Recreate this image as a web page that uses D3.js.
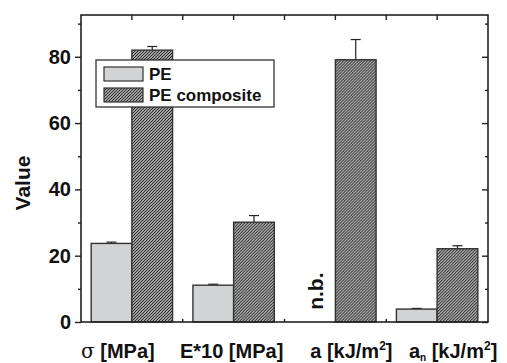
<!DOCTYPE html>
<html>
<head>
<meta charset="utf-8">
<script src="https://cdn.jsdelivr.net/npm/d3@7"></script>
<style>
    body { margin: 0; background: #fff; }
    svg text { font-family: "Liberation Sans", Arial, sans-serif; font-weight: bold; fill: #111; }
</style>
</head>
<body>
<svg id="chart" width="507" height="363"></svg>
<script>
// data
var categories = ["sigma", "E10", "a", "an"];
var seriesNames = ["PE", "PE composite"];
var peValues = [23.7, 11.1, null, 3.9];
var peErrors = [0.4, 0.3, null, 0.2];
var compValues = [82.0, 30.1, 79.1, 22.1];
var compErrors = [1.1, 2.0, 6.1, 0.9];
var yMajorTicks = [0, 20, 40, 60, 80];
var yMinorTicks = [10, 30, 50, 70, 90];

var dims = {
    margins: { top: 15, right: 19, bottom: 41, left: 81 },
    width: 507,
    height: 363,
    labelShift: [-14, -2, 16, 16] // the x labels are not centred under their groups
};
var plot = {
    width: dims.width - dims.margins.left - dims.margins.right,
    height: dims.height - dims.margins.top - dims.margins.bottom
};

var svg = d3.select("#chart");

// hatch for the composite bars
var defs = svg.append("defs");
var hatch = defs.append("pattern")
    .attr("id", "hatch")
    .attr("patternUnits", "userSpaceOnUse")
    .attr("width", 3)
    .attr("height", 3);
hatch.append("rect").attr("width", 3).attr("height", 3).attr("fill", "#fff");
hatch.append("path")
    .attr("d", "M-0.75,0.75 L0.75,-0.75 M0,3 L3,0 M2.25,3.75 L3.75,2.25")
    .attr("stroke", "#2a2a2a")
    .attr("stroke-width", 1.25);

var g = svg.append("g")
    .attr("transform", `translate(${dims.margins.left}, ${dims.margins.top})`);

var yScale = d3.scaleLinear()
    .domain([0, 92.6])
    .range([plot.height, 0]);
var x0 = d3.scaleBand()
    .domain(categories)
    .range([0, plot.width])
    .padding(0);
var x1 = d3.scaleBand()
    .domain(seriesNames)
    .range([0, x0.bandwidth()])
    .paddingInner(0)
    .paddingOuter(0.25);

var rows = categories.map((c, i) => ({
    cat: c,
    bars: [
        { s: "PE", v: peValues[i], e: peErrors[i] },
        { s: "PE composite", v: compValues[i], e: compErrors[i] }
    ].filter(b => b.v != null)
}));

var groups = g.selectAll("g.group")
    .data(rows)
    .enter()
    .append("g")
    .attr("class", "group")
    .attr("transform", d => `translate(${x0(d.cat)}, 0)`);

// error bars first so the bar outline sits over the stem bottom
groups.selectAll("g.err")
    .data(d => d.bars)
    .enter()
    .append("g")
    .attr("class", "err")
    .each(function(b) {
        var cx = x1(b.s) + x1.bandwidth() / 2;
        var el = d3.select(this);
        el.append("line")
            .attr("x1", cx).attr("x2", cx)
            .attr("y1", yScale(b.v)).attr("y2", yScale(b.v + b.e))
            .attr("stroke", "#222").attr("stroke-width", 1.2);
        el.append("line")
            .attr("x1", cx - 5).attr("x2", cx + 5)
            .attr("y1", yScale(b.v + b.e)).attr("y2", yScale(b.v + b.e))
            .attr("stroke", "#222").attr("stroke-width", 1.2);
    });

groups.selectAll("rect")
    .data(d => d.bars)
    .enter()
    .append("rect")
    .attr("x", b => x1(b.s))
    .attr("width", x1.bandwidth())
    .attr("y", b => yScale(b.v))
    .attr("height", b => plot.height - yScale(b.v))
    .attr("fill", b => b.s == "PE" ? "#d2d3d5" : "url(#hatch)")
    .attr("stroke", "#333")
    .attr("stroke-width", 1.4);

// n.b. for missing PE value
rows.forEach(d => {
    if (!d.bars.some(b => b.s == "PE")) {
        var cx = x0(d.cat) + x1("PE") + x1.bandwidth() / 2;
        g.append("text")
            .attr("transform", `translate(${cx + 8}, ${yScale(9.3)}) rotate(-90)`)
            .attr("text-anchor", "middle")
            .attr("font-size", 21)
            .text("n.b.");
    }
});

// axes: left with labels, right/top/bottom inward ticks
var yLeft = g.append("g")
    .call(d3.axisLeft(yScale).tickValues(yMajorTicks).tickSize(6).tickPadding(4));
yLeft.selectAll("text").attr("font-size", 20).style("font-family", "'Liberation Sans', Arial, sans-serif").style("font-weight", "bold").attr("fill", "#111");
g.append("g")
    .call(d3.axisLeft(yScale).tickValues(yMinorTicks.filter(v => v < 92)).tickSize(3).tickFormat(""));
g.append("g")
    .attr("transform", `translate(${plot.width}, 0)`)
    .call(d3.axisLeft(yScale).tickValues(yMajorTicks).tickSize(6).tickFormat(""));
g.append("g")
    .attr("transform", `translate(${plot.width}, 0)`)
    .call(d3.axisLeft(yScale).tickValues(yMinorTicks.filter(v => v < 92)).tickSize(3).tickFormat(""));
g.selectAll(".domain").remove();
g.selectAll(".tick line").attr("stroke", "#222").attr("stroke-width", 1.4);

var centers = categories.map(c => x0(c) + x0.bandwidth() / 2);
var bounds = categories.slice(1).map(c => x0(c));
g.selectAll("line.topTick")
    .data(centers.concat(bounds))
    .enter()
    .append("line")
    .attr("x1", d => d).attr("x2", d => d)
    .attr("y1", 0).attr("y2", 5)
    .attr("stroke", "#222").attr("stroke-width", 1.4);
g.selectAll("line.botTick")
    .data(bounds)
    .enter()
    .append("line")
    .attr("x1", d => d).attr("x2", d => d)
    .attr("y1", plot.height).attr("y2", plot.height - 3)
    .attr("stroke", "#222").attr("stroke-width", 1.4);

// frame
g.append("rect")
    .attr("width", plot.width)
    .attr("height", plot.height)
    .attr("fill", "none")
    .attr("stroke", "#222")
    .attr("stroke-width", 1.6);

// x labels
var xLabels = g.selectAll("text.xlab")
    .data(categories)
    .enter()
    .append("text")
    .attr("class", "xlab")
    .attr("x", (c, i) => x0(c) + x0.bandwidth() / 2 + dims.labelShift[i])
    .attr("y", plot.height + 36)
    .attr("text-anchor", "middle")
    .attr("font-size", 20);

xLabels.each(function(c) {
    var t = d3.select(this);
    if (c == "sigma") {
        t.append("tspan").attr("font-family", "'DejaVu Serif', serif").attr("font-weight", "normal").text("σ");
        t.append("tspan").text(" [MPa]");
    } else if (c == "E10") {
        t.text("E*10 [MPa]");
    } else {
        t.append("tspan").text("a");
        if (c == "an") {
            t.append("tspan").attr("font-size", 10).attr("dy", 3).text("n");
            t.append("tspan").attr("dy", -3).text(" [kJ/m");
        } else {
            t.append("tspan").text(" [kJ/m");
        }
        t.append("tspan").attr("font-size", 12).attr("dy", -8).text("2");
        t.append("tspan").attr("dy", 8).text("]");
    }
});

// y title
svg.append("text")
    .attr("transform", `translate(30, 183) rotate(-90)`)
    .attr("text-anchor", "middle")
    .attr("font-size", 21)
    .text("Value");

// legend
var legend = svg.append("g").attr("transform", "translate(96, 60)");
legend.append("rect")
    .attr("width", 178)
    .attr("height", 47)
    .attr("fill", "#fff")
    .attr("stroke", "#222")
    .attr("stroke-width", 1.2);
var items = legend.selectAll("g.item")
    .data(seriesNames)
    .enter()
    .append("g")
    .attr("class", "item")
    .attr("transform", (d, i) => `translate(8, ${7 + i * 21})`);
items.append("rect")
    .attr("width", 39)
    .attr("height", 14)
    .attr("fill", d => d == "PE" ? "#d2d3d5" : "url(#hatch)")
    .attr("stroke", "#333")
    .attr("stroke-width", 1.2);
items.append("text")
    .attr("x", 45)
    .attr("y", 13)
    .attr("font-size", 17)
    .text(d => d);
</script>
</body>
</html>
